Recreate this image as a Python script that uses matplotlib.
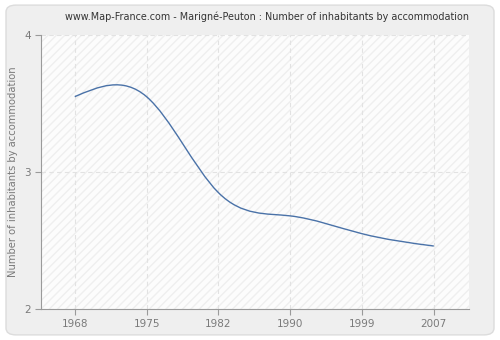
import matplotlib
matplotlib.use("Agg")
import matplotlib.pyplot as plt
import numpy as np
from matplotlib.path import Path
from matplotlib.patches import PathPatch, FancyBboxPatch

# data
years = ['1968', '1975', '1982', '1990', '1999', '2007']
inhabitants = [3.55, 3.55, 2.85, 2.68, 2.55, 2.46]
yticks = [2, 3, 4]

fig = plt.figure(figsize=(5, 3.4), dpi=100)
fig.patch.set_facecolor('white')
fig.patches.append(FancyBboxPatch((0.012, 0.015), 0.976, 0.97,
                                  boxstyle='round,pad=0,rounding_size=0.02',
                                  transform=fig.transFigure, facecolor='#efefef',
                                  edgecolor='#dcdcdc', linewidth=1, zorder=-10))

ax = fig.add_axes([0.082, 0.091, 0.856, 0.806])
ax.set_facecolor('#fcfcfc')
ax.patch.set_hatch('////')
ax.patch.set_edgecolor('#efefef')
ax.patch.set_linewidth(0)

x = np.arange(len(years))
y = np.array(inhabitants)

# natural cubic spline -> bezier segments
n = len(x)
A = np.zeros((n, n))
b = np.zeros(n)
A[0, 0] = A[-1, -1] = 1
for i in range(1, n - 1):
    A[i, i - 1], A[i, i], A[i, i + 1] = 1, 4, 1
    b[i] = 6 * (y[i + 1] - 2 * y[i] + y[i - 1])
M = np.linalg.solve(A, b)
verts = [(x[0], y[0])]
codes = [Path.MOVETO]
for i in range(n - 1):
    dy = y[i + 1] - y[i]
    d0 = dy - (2 * M[i] + M[i + 1]) / 6
    d1 = dy + (M[i] + 2 * M[i + 1]) / 6
    verts += [(x[i] + 1 / 3, y[i] + d0 / 3), (x[i + 1] - 1 / 3, y[i + 1] - d1 / 3), (x[i + 1], y[i + 1])]
    codes += [Path.CURVE4] * 3
ax.add_patch(PathPatch(Path(verts, codes), facecolor='none', edgecolor='#4a72a8', linewidth=1, zorder=3))

ax.set_xlim(-0.47, 5.49)
ax.set_ylim(2, 4)
ax.set_xticks(x)
ax.set_xticklabels(years)
ax.set_yticks(yticks)
ax.grid(True, color='#e2e2e2', linestyle=(0, (4, 3)), linewidth=0.8)
for s in ['top', 'right']:
    ax.spines[s].set_visible(False)
for s in ['left', 'bottom']:
    ax.spines[s].set_color('#9a9a9a')
ax.tick_params(colors='#9a9a9a', labelcolor='#7a7a7a', labelsize=7.5, length=4, width=0.8)
ax.set_ylabel('Number of inhabitants by accommodation', fontsize=7.2, color='#7a7a7a')
ax.set_title('www.Map-France.com - Marigné-Peuton : Number of inhabitants by accommodation',
             fontsize=6.9, color='#333333', pad=11, x=0.527)

fig.savefig('out.png', dpi=100)
